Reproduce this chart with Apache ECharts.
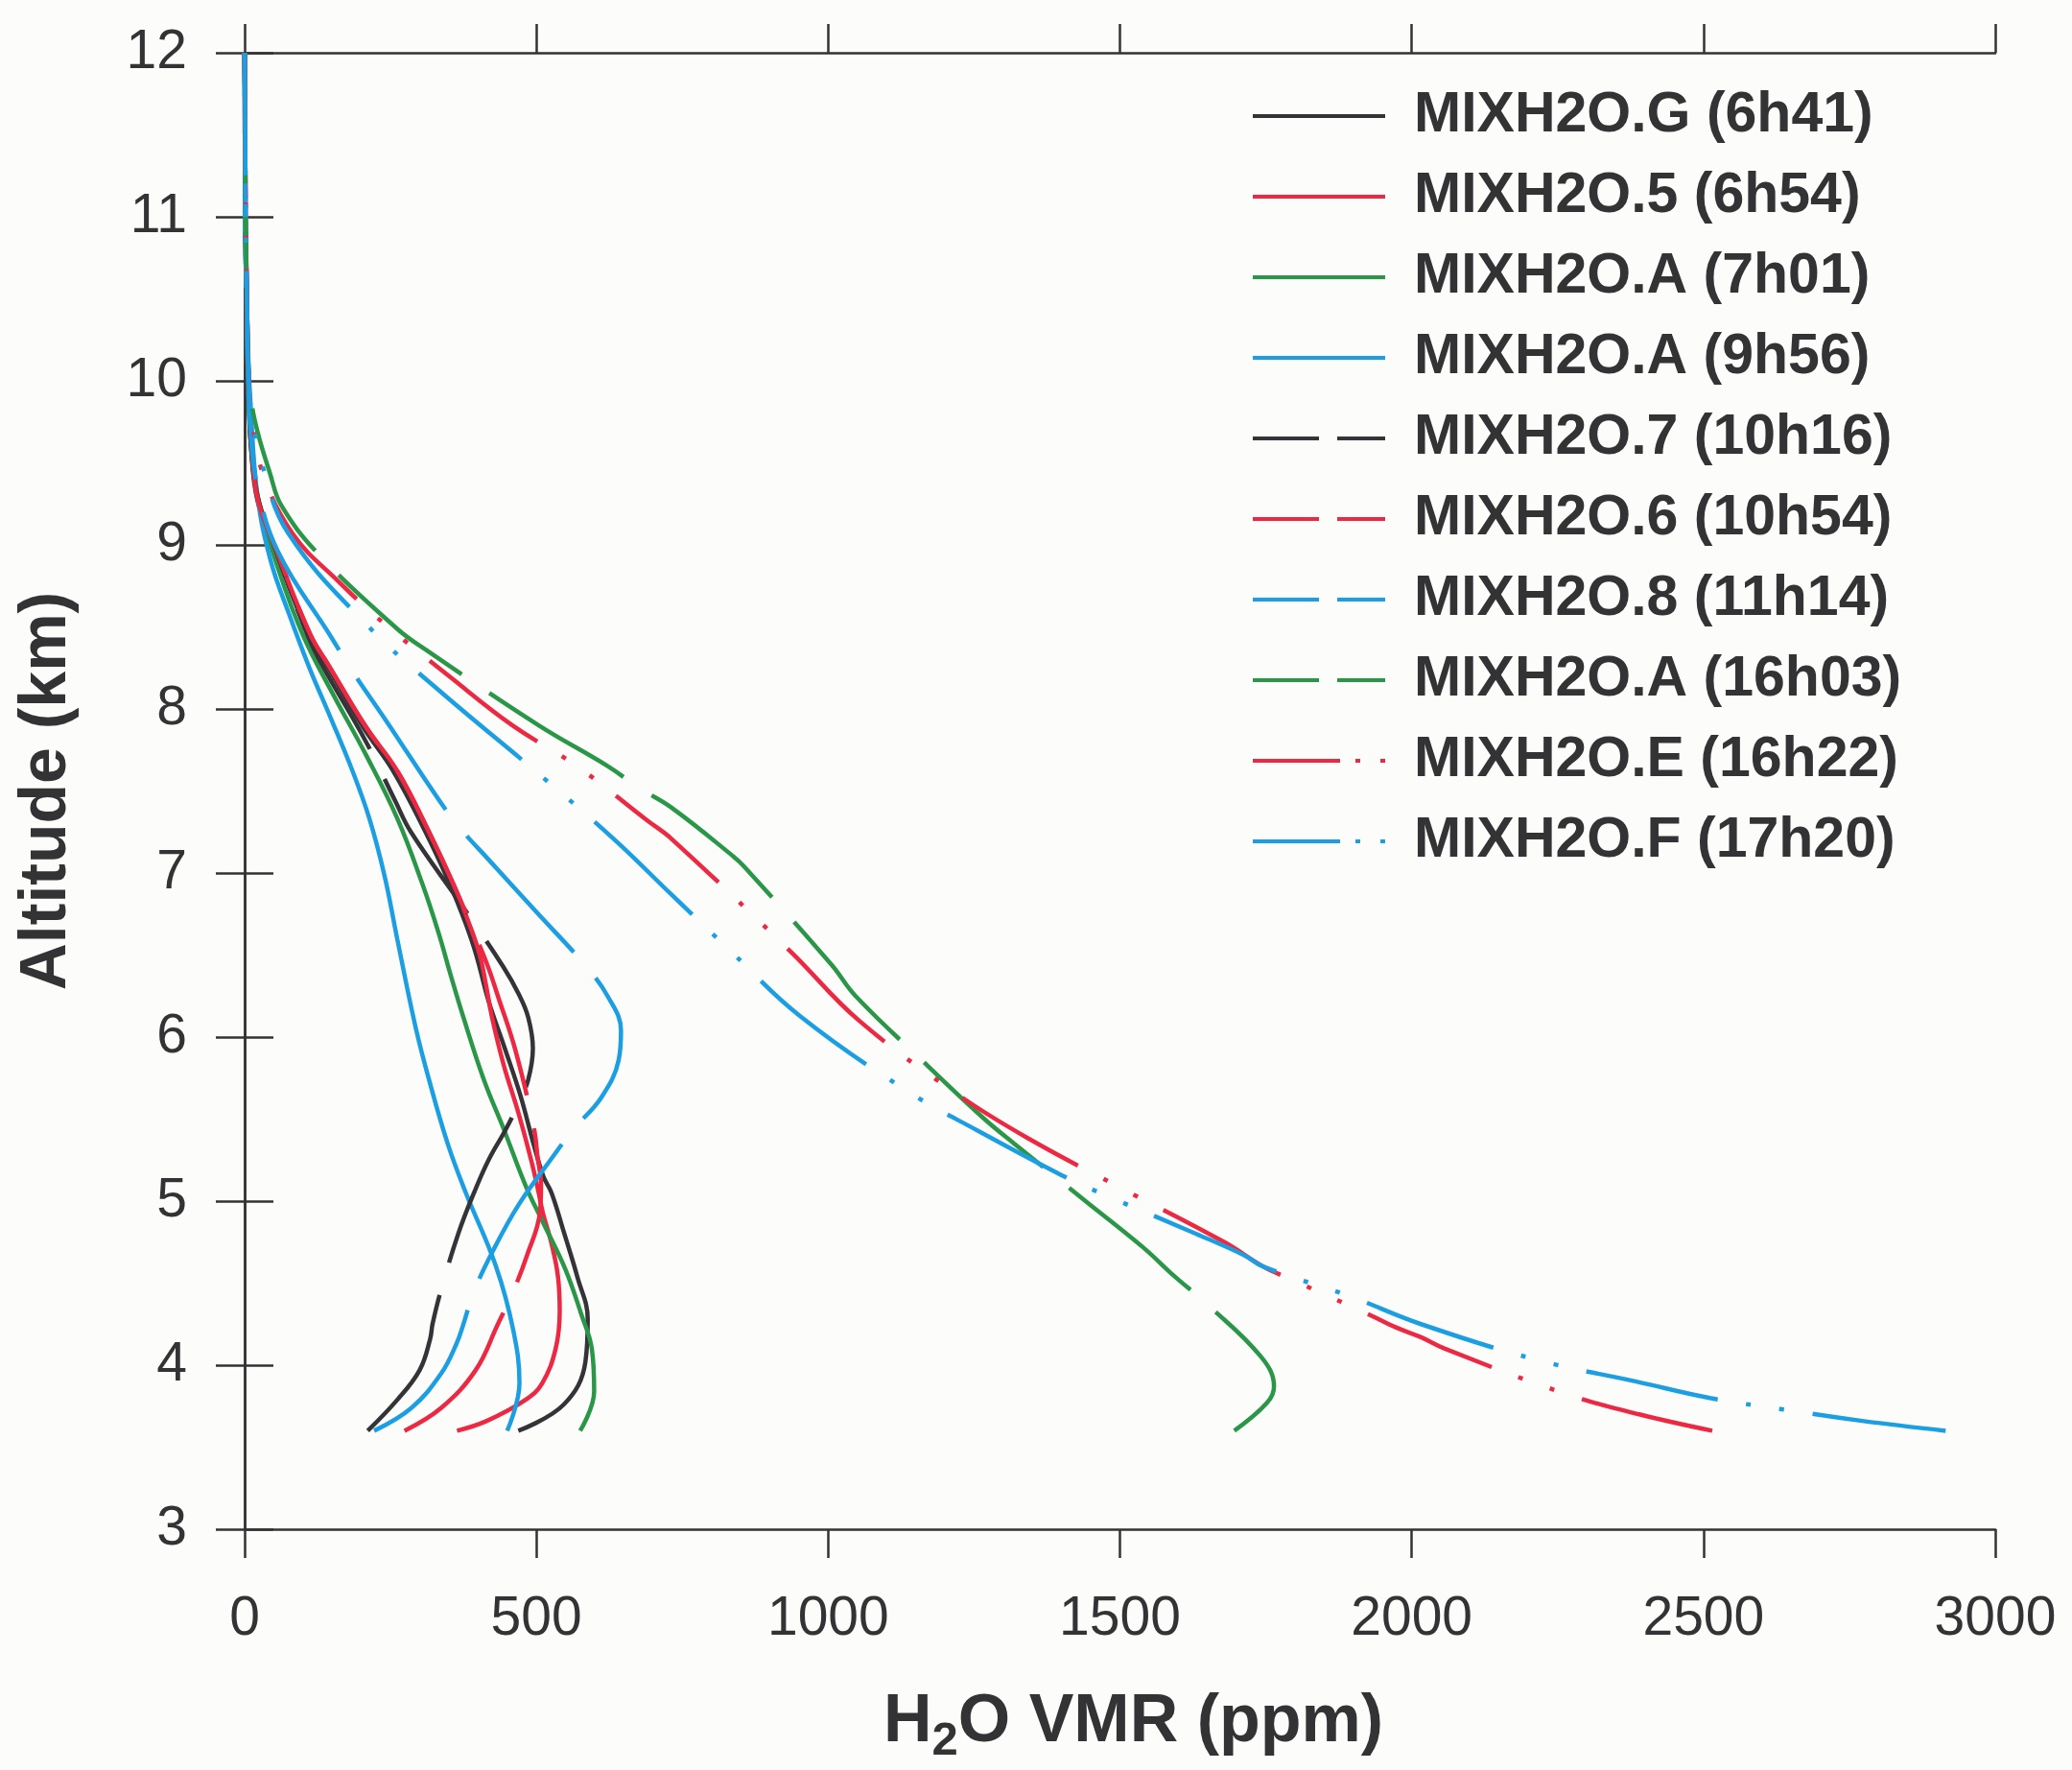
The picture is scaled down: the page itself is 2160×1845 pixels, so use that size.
<!DOCTYPE html>
<html>
<head>
<meta charset="utf-8">
<script src="https://cdn.jsdelivr.net/npm/echarts@6/dist/echarts.min.js"></script>
<style>
  html, body { margin: 0; padding: 0; background: #fcfcfa; }
  #chart { width: 2160px; height: 1845px; }
</style>
</head>
<body>
<div id="chart"></div>
<script>
// profiles: [H2O VMR (ppm), altitude (km)], read bottom -> top
var mixG = [[469,3.6],[547,3.76],[584,4.02],[588,4.28],[570,4.54],[548,4.8],[526,5.05],[512,5.15],[495,5.35],[473,5.64],[446,5.93],[418,6.22],[397,6.5],[378,6.7],[352,6.93],[310,7.25],[255,7.62],[203,7.89],[142,8.26],[110,8.45],[53,8.96],[22,9.27],[11,9.6],[6,10],[3,10.5],[1,11],[0,12]];
var mix5 = [[364,3.6],[415,3.66],[482,3.79],[510,3.89],[533,4.1],[540,4.33],[537,4.54],[526,4.74],[511,4.93],[504,5.05],[491,5.25],[469,5.54],[444,5.83],[424,6.12],[413,6.33],[403,6.5],[386,6.68],[358,6.93],[316,7.25],[262,7.62],[208,7.89],[145,8.26],[113,8.45],[55,8.96],[23,9.27],[12,9.6],[7,10],[4,10.5],[2,11],[0,12]];
var mixA0701 = [[575,3.6],[599,3.84],[595,4.1],[577,4.31],[549,4.59],[510,4.88],[482,5.09],[444,5.44],[410,5.74],[375,6.12],[353,6.38],[332,6.64],[304,6.94],[262,7.33],[208,7.72],[150,8.1],[100,8.45],[58,8.85],[24,9.27],[11,9.6],[6,10],[3,10.5],[1,11],[0,12]];
var mixA0956 = [[450,3.6],[471,3.89],[460,4.22],[430,4.61],[378,5.06],[348,5.35],[316,5.74],[293,6.06],[262,6.59],[240,6.98],[214,7.33],[184,7.63],[147,7.95],[110,8.26],[76,8.58],[45,8.9],[22,9.3],[10,9.87],[5,10.3],[2,11],[0,12]];
var mix7 = [[211,3.6],[262,3.79],[300,3.97],[318,4.16],[322,4.25],[336,4.45],[366,4.8],[393,5.05],[418,5.25],[448,5.44],[470,5.6],[486,5.74],[494,5.93],[486,6.12],[470,6.26],[443,6.43],[373,6.8],[285,7.25],[258,7.44],[208,7.8],[134,8.26],[109,8.44],[81,8.7],[50,9.0],[22,9.3],[11,9.6],[6,10],[3,10.5],[1,11],[0,12]];
var mix6 = [[274,3.6],[337,3.74],[396,3.97],[434,4.25],[458,4.43],[484,4.67],[506,4.93],[508,5.1],[502,5.27],[496,5.44],[464,5.92],[434,6.25],[417,6.43],[393,6.64],[358,6.93],[316,7.25],[262,7.62],[208,7.89],[145,8.26],[113,8.45],[55,8.96],[23,9.27],[12,9.6],[7,10],[4,10.5],[2,11],[0,12]];
var mix8 = [[222,3.6],[286,3.74],[337,3.95],[363,4.13],[375,4.25],[392,4.44],[426,4.7],[470,4.98],[524,5.25],[564,5.44],[611,5.63],[641,5.86],[645,6.04],[622,6.25],[583,6.44],[498,6.77],[416,7.09],[375,7.25],[336,7.43],[246,7.91],[181,8.25],[148,8.44],[57,8.96],[21,9.37],[10,9.7],[6,10],[3,10.5],[1,11],[0,12]];
var mixA1603 = [[1696,3.6],[1752,3.77],[1764,3.87],[1742,4.05],[1650,4.37],[1594,4.54],[1539,4.72],[1441,5.0],[1319,5.35],[1268,5.5],[1172,5.82],[1047,6.25],[1006,6.44],[856,7.04],[838,7.1],[731,7.4],[675,7.52],[623,7.65],[504,7.9],[315,8.35],[261,8.49],[125,8.95],[63,9.24],[44,9.43],[18,9.75],[8,10],[4,10.5],[2,11],[0,12]];
var mixE = [[2515,3.6],[2390,3.7],[2260,3.83],[2057,4.1],[2016,4.17],[1973,4.23],[1932,4.3],[1789,4.53],[1746,4.6],[1679,4.75],[1491,5.1],[1344,5.38],[1226,5.64],[1053,6.1],[936,6.52],[731,7.21],[690,7.32],[570,7.65],[459,7.9],[354,8.19],[236,8.53],[163,8.77],[82,9.07],[28,9.47],[12,9.8],[7,10],[4,10.5],[2,11],[0,12]];
var mixF = [[2915,3.6],[2772,3.66],[2637,3.73],[2511,3.8],[2385,3.9],[2217,4.03],[2016,4.25],[1894,4.42],[1746,4.6],[1713,4.67],[1631,4.8],[1466,5.05],[1399,5.16],[1256,5.43],[1136,5.67],[951,6.13],[834,6.52],[731,6.87],[635,7.2],[512,7.58],[331,8.12],[213,8.5],[75,9.07],[30,9.49],[12,9.8],[7,10],[4,10.5],[2,11],[0,12]];

var names = ['MIXH2O.G (6h41)', 'MIXH2O.5 (6h54)', 'MIXH2O.A (7h01)', 'MIXH2O.A (9h56)',
  'MIXH2O.7 (10h16)', 'MIXH2O.6 (10h54)', 'MIXH2O.8 (11h14)', 'MIXH2O.A (16h03)',
  'MIXH2O.E (16h22)', 'MIXH2O.F (17h20)'];
var profiles = [mixG, mix5, mixA0701, mixA0956, mix7, mix6, mix8, mixA1603, mixE, mixF];

var BLACK = '#343438', RED = '#ec2843', GREEN = '#2a9748', BLUE = '#1c9fe2';
var colors = [BLACK, RED, GREEN, BLUE, BLACK, RED, BLUE, GREEN, RED, BLUE];
// 0 solid, 1 long dash, 2 dash-dot-dot
var kinds = [0, 0, 0, 0, 1, 1, 1, 1, 2, 2];
var lineDash = ['solid', [165, 35], [140, 30, 5, 30, 5, 30]];
var legendDash = ['solid', [69, 19], [91, 16, 5, 21, 5, 100]];

var FONT = "'Liberation Sans', Arial, sans-serif";
var INK = '#333336';

var chart = echarts.init(document.getElementById('chart'));

var series = profiles.map(function (d, i) {
  return {
    name: names[i],
    type: 'line',
    data: d,
    symbol: 'none',
    smooth: 0.4,
    lineStyle: { color: colors[i], width: 4.5, type: lineDash[kinds[i]], cap: 'butt' },
    itemStyle: { color: colors[i] }
  };
});

var axisLine = { show: true, lineStyle: { color: INK, width: 2.5 } };
var axisTick = { show: true, inside: false, length: 30, lineStyle: { color: INK, width: 2.5 } };
var plain = function (v) { return String(v); };

var option = {
  backgroundColor: '#fcfcfa',
  animation: false,
  grid: { left: 255, top: 55, width: 1825, height: 1545 },
  legend: {
    orient: 'vertical',
    left: 1299,
    top: 86,
    itemWidth: 138,
    itemHeight: 20,
    itemGap: 24,
    itemStyle: { opacity: 0 },
    textStyle: { fontFamily: FONT, fontWeight: 'bold', fontSize: 59, lineHeight: 60, color: INK, padding: [0, 0, 0, 25] },
    data: names.map(function (n, i) {
      return {
        name: n,
        itemStyle: { opacity: 0 },
        lineStyle: { type: legendDash[kinds[i]], width: 4, color: colors[i], opacity: 1 }
      };
    })
  },
  xAxis: [{
    type: 'value', min: 0, max: 3000, interval: 500, position: 'bottom',
    axisLine: axisLine, axisTick: axisTick, splitLine: { show: false },
    axisLabel: { margin: 66, fontFamily: FONT, fontSize: 57, color: INK, formatter: plain },
    name: '{b|H}{s|2}{b|O VMR (ppm)}',
    nameLocation: 'middle',
    nameGap: 157,
    nameTextStyle: {
      padding: [0, 0, 0, 28],
      rich: {
        b: { fontFamily: FONT, fontWeight: 'bold', fontSize: 70, color: INK },
        s: { fontFamily: FONT, fontWeight: 'bold', fontSize: 49, color: INK, padding: [40, 0, 0, 0] }
      }
    }
  }, {
    type: 'value', min: 0, max: 3000, interval: 500, position: 'top',
    axisLine: axisLine, axisTick: axisTick, splitLine: { show: false },
    axisLabel: { show: false }
  }],
  yAxis: [{
    type: 'value', min: 3, max: 12, interval: 1, position: 'left',
    axisLine: axisLine, axisTick: axisTick, splitLine: { show: false },
    axisLabel: { margin: 60, fontFamily: FONT, fontSize: 57, color: INK, formatter: plain },
    name: 'Altitude (km)',
    nameLocation: 'middle',
    nameGap: 172,
    nameTextStyle: { fontFamily: FONT, fontWeight: 'bold', fontSize: 68, color: INK }
  }, {
    type: 'value', min: 3, max: 12, interval: 1, position: 'right',
    axisLine: axisLine, axisTick: axisTick, splitLine: { show: false },
    axisLabel: { show: false }
  }],
  series: series
};

chart.setOption(option);
</script>
</body>
</html>
